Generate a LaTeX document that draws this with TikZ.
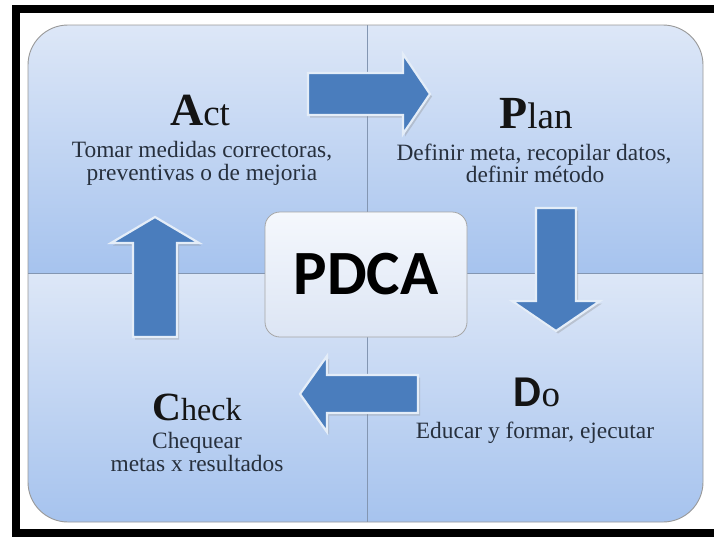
\documentclass[tikz,border=0pt]{standalone}
\usepackage{fontspec}
\setmainfont{Liberation Serif}
\newfontfamily\calib{Carlito}
\definecolor{qtop}{HTML}{DDE7F7}
\definecolor{qbot}{HTML}{A6C3EE}
\definecolor{divc}{HTML}{8396B2}
\definecolor{arrfill}{HTML}{4A7DBD}
\definecolor{arredge}{HTML}{E4EDF8}
\definecolor{desc}{HTML}{27303D}
\definecolor{pdtop}{HTML}{F5F8FD}
\definecolor{pdbot}{HTML}{DCE5F4}
\tikzset{
  blockarrow/.style={fill=arrfill, draw=arredge, line width=2.2pt, line join=miter},
  arrowshadow/.style={fill=black!45, opacity=.35, draw=none},
  divline/.style={draw=divc, line width=0.9pt},
  title/.style={anchor=base, inner sep=0pt, text=black!92},
  descline/.style={anchor=base, inner sep=0pt, text=desc, font=\fontsize{23.4}{24}\selectfont},
  centerbox/.style={draw=black!35, line width=0.8pt, rounded corners=15pt,
    top color=pdtop, bottom color=pdbot, minimum width=202pt, minimum height=125pt,
    font=\calib\bfseries\fontsize{63}{63}\selectfont, text=black}
}
\begin{document}
\begin{tikzpicture}[x=1pt, y=-1pt]
  \clip (0,0) rectangle (714,538);
  \fill[white] (0,0) rectangle (714,538);
  % outer black frame (right side lies beyond the page)
  \draw[line width=8pt, line join=miter] (740,9) -- (16,9) -- (16,533) -- (740,533);

  % four quadrants with their own vertical gradients
  \begin{scope}
    \clip[rounded corners=40pt] (28,25) rectangle (703,522);
    \shade[top color=qtop, bottom color=qbot] (28,25) rectangle (703,273);
    \shade[top color=qtop, bottom color=qbot] (28,273) rectangle (703,522);
  \end{scope}
  \coordinate (vtop) at (367,25);
  \coordinate (vbot) at (367,522);
  \coordinate (hl) at (28,273);
  \coordinate (hr) at (703,273);
  \draw[divline] (vtop) -- (vbot);
  \draw[divline] (hl) -- (hr);
  \draw[draw=black!40, line width=0.9pt, rounded corners=40pt] (28,25) rectangle (703,522);

  % block arrows: shadows first
  \begin{scope}[shift={(2,2.5)}]
    \path[arrowshadow] (308,73) -- (403,73) -- (403,54) -- (430,94) -- (403,134) -- (403,115) -- (308,115) -- cycle;
    \path[arrowshadow] (536,208) -- (576,208) -- (576,301) -- (600,301) -- (556,331) -- (512,301) -- (536,301) -- cycle;
    \path[arrowshadow] (418,375) -- (327,375) -- (327,356) -- (300,394) -- (327,432) -- (327,413) -- (418,413) -- cycle;
    \path[arrowshadow] (133,337) -- (133,243) -- (111,243) -- (155,217) -- (199,243) -- (177,243) -- (177,337) -- cycle;
  \end{scope}
  % Act -> Plan
  \draw[blockarrow] (308,73) -- (403,73) -- (403,54) -- (430,94) -- (403,134) -- (403,115) -- (308,115) -- cycle;
  % Plan -> Do
  \draw[blockarrow] (536,208) -- (576,208) -- (576,301) -- (600,301) -- (556,331) -- (512,301) -- (536,301) -- cycle;
  % Do -> Check
  \draw[blockarrow] (418,375) -- (327,375) -- (327,356) -- (300,394) -- (327,432) -- (327,413) -- (418,413) -- cycle;
  % Check -> Act
  \draw[blockarrow] (133,337) -- (133,243) -- (111,243) -- (155,217) -- (199,243) -- (177,243) -- (177,337) -- cycle;

  % centre box
  \node[centerbox] (pdca) at (366,274.5) {PDCA};

  % Act
  \node[title] (act) at (200,125) {{\fontsize{46}{46}\selectfont\bfseries A}{\fontsize{37}{37}\selectfont ct}};
  \node[descline] (actd1) at (202,157) {Tomar medidas correctoras,};
  \node[descline] (actd2) at (202,180) {preventivas o de mejoria};

  % Plan
  \node[title] (plan) at (536,128) {{\fontsize{46}{46}\selectfont\bfseries P}{\fontsize{37}{37}\selectfont lan}};
  \node[descline] (pland1) at (534,160) {Definir meta, recopilar datos,};
  \node[descline] (pland2) at (535,182) {definir método};

  % Do
  \node[title] (do) at (537,406) {{\calib\fontsize{44}{44}\selectfont\bfseries D}{\fontsize{37}{37}\selectfont o}};
  \node[descline] (dod1) at (535,438) {Educar y formar, ejecutar};

  % Check
  \node[title] (check) at (197,420) {{\fontsize{40}{40}\selectfont\bfseries C}{\fontsize{32}{32}\selectfont heck}};
  \node[descline] (checkd1) at (197,448) {Chequear};
  \node[descline] (checkd2) at (197,471) {metas x resultados};
\end{tikzpicture}
\end{document}
